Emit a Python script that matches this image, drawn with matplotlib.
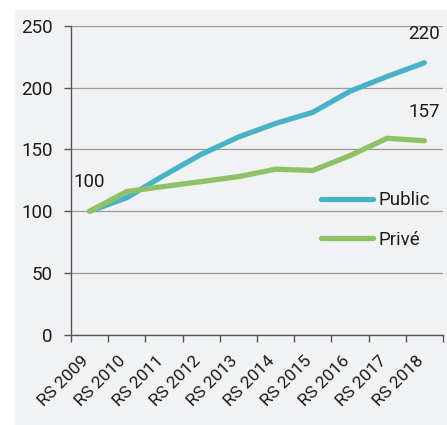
import matplotlib.pyplot as plt
from matplotlib.patches import Rectangle
from matplotlib.transforms import ScaledTranslation
import numpy as np

plt.rcParams["font.family"] = ["Roboto", "DejaVu Sans"]

years = ["RS 2009", "RS 2010", "RS 2011", "RS 2012", "RS 2013",
         "RS 2014", "RS 2015", "RS 2016", "RS 2017", "RS 2018"]
public = [100, 111, 129, 146, 160, 171, 180, 197, 209, 220]
prive = [100, 116, 120, 124, 128, 134, 133, 145, 159, 157]

blue = "#48b3c8"
green = "#8fc166"
text_col = "#1c1c1c"

fig = plt.figure(figsize=(4.47, 4.25), dpi=100)
fig.patch.set_facecolor("white")
fig.patches.append(Rectangle((15 / 447, 0), 1, 415 / 425, transform=fig.transFigure,
                             facecolor="#f1f2f4", edgecolor="none", zorder=-10))

ax = fig.add_axes([71 / 447, 1 - 335 / 425, 372 / 447, (335 - 25.7) / 425])
ax.set_facecolor("none")
ax.set_zorder(1)

x = np.arange(len(years)) + 0.5
ax.plot(x, public, color=blue, lw=3.8, solid_capstyle="round", solid_joinstyle="round",
        label="Public", zorder=3)
ax.plot(x, prive, color=green, lw=3.8, solid_capstyle="round", solid_joinstyle="round",
        label="Privé", zorder=3)

ax.set_xlim(0, len(years))
ax.set_ylim(0, 250)
ax.set_yticks(range(0, 251, 50))
ax.yaxis.grid(True, color="#9a9a9a", lw=0.9)
ax.set_axisbelow(True)

ax.set_xticks(range(len(years) + 1))
ax.set_xticklabels([])
ax.set_xticks(x, minor=True)
ax.set_xticklabels(years, minor=True, rotation=45, ha="right", rotation_mode="default")
ax.tick_params(axis="x", which="minor", length=0, pad=13, labelsize=12.5, labelcolor=text_col)
ax.tick_params(axis="x", which="major", length=5, width=1, color="#555555")
ax.tick_params(axis="y", length=5, width=1, color="#555555", pad=8, labelsize=13.5,
               labelcolor=text_col)
shift = ScaledTranslation(2 / 100, 0, fig.dpi_scale_trans)
for lbl in ax.get_xticklabels(minor=True):
    lbl.set_transform(lbl.get_transform() + shift)

for s in ["top", "right"]:
    ax.spines[s].set_visible(False)
for s in ["left", "bottom"]:
    ax.spines[s].set_color("#555555")
    ax.spines[s].set_linewidth(1)

ax.text(x[0], 124, str(public[0]), ha="center", va="center", fontsize=13.5, color=text_col)
ax.text(x[-1], 243.5, str(public[-1]), ha="center", va="center", fontsize=13.5, color=text_col)
ax.text(x[-1], 180.5, str(prive[-1]), ha="center", va="center", fontsize=13.5, color=text_col)

leg = ax.legend(loc="upper left", bbox_to_anchor=(0.672, 0.464), frameon=False, fontsize=13.5,
                handlelength=2.75, handletextpad=0.32, labelspacing=1.15, borderpad=0,
                borderaxespad=0)
for t in leg.get_texts():
    t.set_color(text_col)
for h in leg.get_lines():
    h.set_solid_capstyle("round")

fig.savefig("out.png", dpi=100)
